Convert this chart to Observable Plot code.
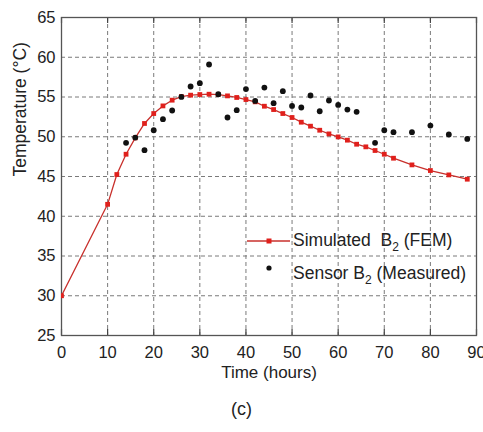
<!DOCTYPE html>
<html>
<head>
<meta charset="utf-8">
<script src="https://cdn.jsdelivr.net/npm/d3@7"></script>
<script src="https://cdn.jsdelivr.net/npm/@observablehq/plot@0.6"></script>
<style>
  body { margin: 0; background: #fff; font-family: "Liberation Sans", Arial, sans-serif; }
  #caption { width: 483px; text-align: center; font-size: 18px; line-height: 20px; color: #222; margin-top: 9px; }
</style>
</head>
<body>
<div id="chart"></div>
<div id="caption">(c)</div>
<script>
const xTicks = [0, 10, 20, 30, 40, 50, 60, 70, 80, 90];
const yTicks = [25, 30, 35, 40, 45, 50, 55, 60, 65];

const simX = [0, 10, 12, 14, 16, 18, 20, 22, 24, 26, 28, 30, 32, 34, 36, 38, 40, 42, 44, 46, 48, 50, 52, 54, 56, 58, 60, 62, 64, 66, 68, 70, 72, 76, 80, 84, 88];
const simY = [30, 41.5, 45.25, 47.8, 49.86, 51.67, 52.92, 53.88, 54.6, 55.06, 55.23, 55.31, 55.35, 55.31, 55.14, 54.94, 54.68, 54.39, 53.84, 53.42, 52.92, 52.42, 51.83, 51.33, 50.82, 50.36, 49.98, 49.57, 49.06, 48.73, 48.27, 47.8, 47.3, 46.46, 45.75, 45.2, 44.66];

const measX = [14, 16, 18, 20, 22, 24, 26, 28, 30, 32, 34, 36, 38, 40, 42, 44, 46, 48, 50, 52, 54, 56, 58, 60, 62, 64, 68, 70, 72, 76, 80, 84, 88];
const measY = [49.23, 49.9, 48.31, 50.82, 52.21, 53.3, 55.01, 56.32, 56.74, 59.09, 55.35, 52.42, 53.34, 56.0, 54.51, 56.19, 54.22, 55.73, 53.88, 53.68, 55.19, 53.21, 54.56, 54.0, 53.42, 53.13, 49.23, 50.82, 50.57, 50.57, 51.41, 50.28, 49.73];

const sim = simX.map((x, i) => ({x, y: simY[i]}));
const meas = measX.map((x, i) => ({x, y: measY[i]}));

const FONT = "'Liberation Sans', Arial, Helvetica, sans-serif";
const RED_LINE = "#c8302c";
const RED_MARK = "#e0201c";

const chart = Plot.plot({
  width: 483,
  height: 390,
  marginTop: 17,
  marginBottom: 55,
  marginLeft: 61,
  marginRight: 7,
  style: {fontFamily: FONT, fontSize: "16.5px", color: "#222", background: "#fff", overflow: "visible"},
  x: {domain: [0, 90]},
  y: {domain: [25, 65]},
  marks: [
    Plot.gridX(xTicks.slice(1, -1), {stroke: "#7a7a7a", strokeOpacity: 1, strokeDasharray: "4,3", strokeWidth: 1}),
    Plot.gridY(yTicks.slice(1, -1), {stroke: "#7a7a7a", strokeOpacity: 1, strokeDasharray: "4,3", strokeWidth: 1}),
    Plot.tickX(xTicks, {x: d => d, insetTop: 312, stroke: "#444", strokeWidth: 1.2}),
    Plot.tickX(xTicks, {x: d => d, insetBottom: 312, stroke: "#444", strokeWidth: 1.2}),
    Plot.frame({stroke: "#555", strokeWidth: 1.3}),
    Plot.axisX(xTicks, {tickSize: 0, tickPadding: 11, label: null, fontSize: 16.5, fill: "#222"}),
    Plot.axisY(yTicks, {tickSize: 0, tickPadding: 6, label: null, fontSize: 16.5, fill: "#222"}),
    Plot.text(["Time (hours)"], {frameAnchor: "bottom", dy: 42, fontSize: 17, fill: "#222"}),
    Plot.text(["Temperature (°C)"], {frameAnchor: "left", dx: -41, rotate: -90, fontSize: 17.5, fill: "#222"}),
    Plot.line(sim, {x: "x", y: "y", stroke: RED_LINE, strokeWidth: 1.3, clip: true}),
    Plot.dot(sim, {x: "x", y: "y", symbol: "square", r: 2.7, fill: RED_MARK, stroke: "none", clip: true}),
    Plot.dot(meas, {x: "x", y: "y", r: 2.9, fill: "#111", stroke: "none"})
  ]
});

document.getElementById("chart").appendChild(chart);

// Legend (no box, gridlines pass behind)
const svg = d3.select(chart);
const lg = svg.append("g")
  .attr("font-family", FONT).attr("font-size", 17.5).attr("fill", "#222")
  .attr("text-anchor", "start");
lg.append("line").attr("x1", 247).attr("x2", 290).attr("y1", 241).attr("y2", 241)
  .attr("stroke", RED_LINE).attr("stroke-width", 1.3);
lg.append("rect").attr("x", 266.5).attr("y", 238.5).attr("width", 5).attr("height", 5).attr("fill", RED_MARK);
const t1 = lg.append("text").attr("x", 293).attr("y", 246);
t1.append("tspan").text("Simulated\u00a0\u00a0B");
t1.append("tspan").attr("font-size", 12).attr("dy", 5).text("2");
t1.append("tspan").attr("dy", -5).text(" (FEM)");
lg.append("circle").attr("cx", 269).attr("cy", 268).attr("r", 2.6).attr("fill", "#111");
const t2 = lg.append("text").attr("x", 293).attr("y", 279);
t2.append("tspan").text("Sensor B");
t2.append("tspan").attr("font-size", 12).attr("dy", 5).text("2");
t2.append("tspan").attr("dy", -5).text(" (Measured)");
</script>
</body>
</html>
